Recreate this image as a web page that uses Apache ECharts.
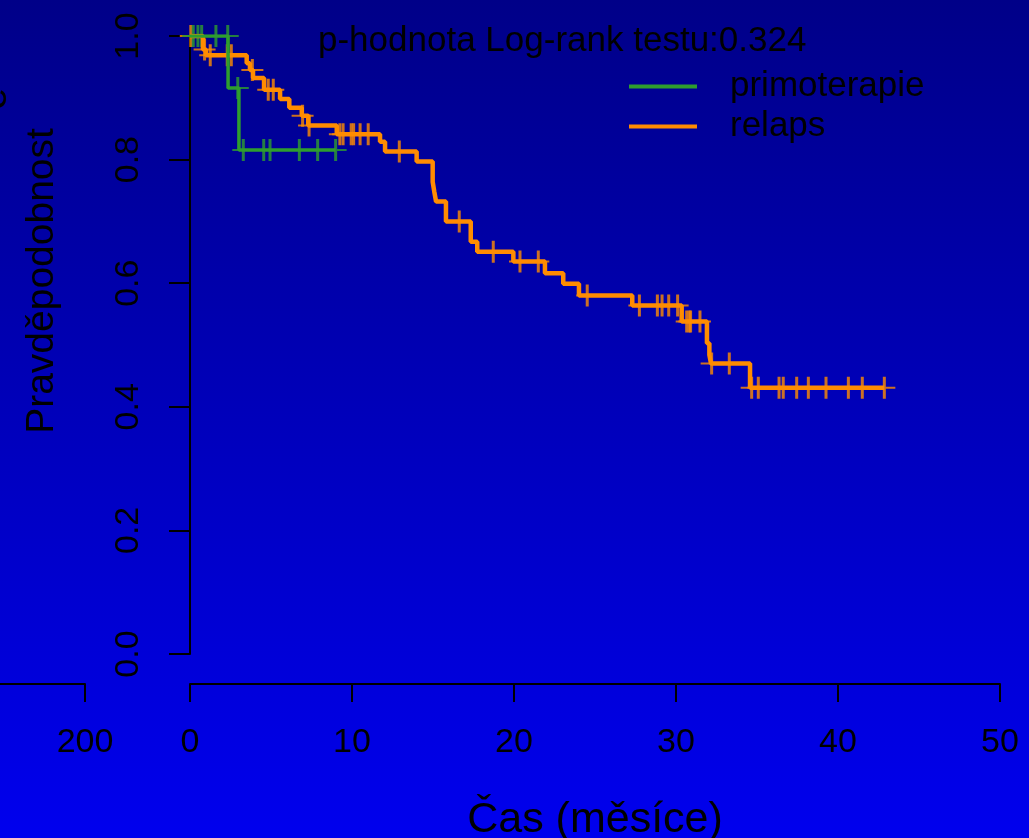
<!DOCTYPE html>
<html>
<head>
<meta charset="utf-8">
<title>Kaplan-Meier</title>
<script src="https://cdn.jsdelivr.net/npm/echarts@6/dist/echarts.min.js"></script>
<style>
  html, body { margin: 0; padding: 0; }
  #chart {
    width: 1029px;
    height: 838px;
    background: linear-gradient(to bottom, #000088, #0000ee);
  }
</style>
</head>
<body>
<div id="chart"></div>
<script>
// krivky preziti (cas v mesicich / pravdepodobnost)
var primoTimes = [0, 2.35, 3.02, 8.99];
var primoSurv = [1, 0.916, 0.8155, 0.8155];
var primoCensTimes = [0.2, 0.49, 0.72, 1.6, 2.33, 2.95, 3.29, 4.55, 4.94, 6.75, 7.88, 8.99];
var primoCensSurv = [1, 1, 1, 1, 1, 0.916, 0.8155, 0.8155, 0.8155, 0.8155, 0.8155, 0.8155];

var relapsTimes = [0, 0.80, 0.99, 3.50, 3.70, 3.89, 4.57, 5.56, 6.13, 6.90, 7.30, 9.06, 11.73, 12.04,
  13.99, 14.98, 15.08, 15.19, 15.80, 17.33, 17.73, 19.96, 21.91, 23.04, 24.01, 27.30, 30.35,
  31.91, 32.06, 32.16, 34.57, 42.86];
var relapsSurv = [1, 0.978, 0.969, 0.956, 0.945, 0.932, 0.913, 0.898, 0.884, 0.871, 0.855, 0.841,
  0.829, 0.813, 0.797, 0.764, 0.748, 0.732, 0.700, 0.667, 0.651, 0.635, 0.616, 0.599, 0.580,
  0.564, 0.538, 0.503, 0.484, 0.470, 0.431, 0.431];
var relapsCensTimes = [0.05, 0.9, 1.25, 2.3, 2.55, 3.85, 4.83, 5.14, 6.95, 7.35, 9.25, 9.45, 9.95,
  10.1, 10.5, 11.0, 12.92, 16.62, 18.72, 20.37, 21.5, 24.52, 27.74, 28.85, 29.14, 29.55, 30.1,
  30.66, 30.82, 30.9, 31.48, 32.2, 33.29, 34.67, 35.08, 36.36, 36.62, 37.45, 38.17, 39.26,
  40.64, 41.5, 42.86];
var relapsCensSurv = [1, 0.978, 0.969, 0.969, 0.969, 0.945, 0.913, 0.913, 0.871, 0.855,
  0.841, 0.841, 0.841, 0.841, 0.841, 0.841, 0.813, 0.700, 0.651, 0.635, 0.635, 0.580,
  0.564, 0.564, 0.564, 0.564, 0.564, 0.538, 0.538, 0.538, 0.538, 0.470, 0.470,
  0.431, 0.431, 0.431, 0.431, 0.431, 0.431, 0.431, 0.431, 0.431, 0.431, 0.431];

// useknuta osa sousedniho grafu vlevo
var leftAxisTicks = [200];

var font = 'Liberation Sans, Arial, Helvetica, sans-serif';
var green = '#2e9e2e';
var orange = '#ff8c00';
// znacka cenzury "+"
var plus = 'path://M9.5,0H12.5V10H22V12H12.5V22H9.5V12H0V10H9.5Z';

function pairs(xs, ys) {
  return xs.map(function (x, i) { return [x, ys[i]]; });
}

var chart = echarts.init(document.getElementById('chart'));

chart.setOption({
  animation: false,
  textStyle: { fontFamily: font, color: '#000' },
  title: {
    text: 'p-hodnota Log-rank testu:0.324',
    left: 318,
    top: 24,
    padding: 0,
    textStyle: { fontFamily: font, fontSize: 35, fontWeight: 'normal', color: '#000' }
  },
  legend: {
    orient: 'vertical',
    left: 629,
    top: 69,
    padding: 0,
    itemGap: 5,
    itemWidth: 68,
    itemHeight: 4,
    selectedMode: false,
    textStyle: { fontFamily: font, fontSize: 35, color: '#000', padding: [0, 0, 0, 28] },
    data: [
      { name: 'primoterapie', icon: 'rect' },
      { name: 'relaps', icon: 'rect' }
    ]
  },
  grid: [
    { left: 190, right: 29, top: 36, bottom: 184, outerBoundsMode: 'none' },
    { left: 0, width: 85, top: 36, bottom: 184, outerBoundsMode: 'none' }
  ],
  xAxis: [
    {
      type: 'value',
      min: 0, max: 50, interval: 10,
      offset: 30,
      name: 'Čas (měsíce)',
      nameLocation: 'middle',
      nameGap: 115,
      nameTextStyle: { fontFamily: font, fontSize: 43, color: '#000' },
      axisLine: { onZero: false, lineStyle: { color: '#000', width: 2 } },
      axisTick: { length: 18, lineStyle: { color: '#000', width: 2 } },
      axisLabel: { fontSize: 34, color: '#000', margin: 42 },
      splitLine: { show: false }
    },
    {
      type: 'value',
      gridIndex: 1,
      min: 150, max: 200,
      offset: 30,
      axisLine: { onZero: false, lineStyle: { color: '#000', width: 2 } },
      axisTick: { length: 18, customValues: leftAxisTicks, lineStyle: { color: '#000', width: 2 } },
      axisLabel: { fontSize: 34, color: '#000', margin: 42, customValues: leftAxisTicks },
      splitLine: { show: false }
    }
  ],
  yAxis: [
    {
      type: 'value',
      min: 0, max: 1, interval: 0.2,
      axisLine: { show: true, onZero: false, lineStyle: { color: '#000', width: 2 } },
      axisTick: { show: true, length: 21, lineStyle: { color: '#000', width: 2 } },
      axisLabel: {
        fontSize: 34, color: '#000', margin: 44, rotate: 90,
        formatter: function (v) { return v.toFixed(1); }
      },
      splitLine: { show: false }
    },
    { type: 'value', gridIndex: 1, show: false, min: 0, max: 1 }
  ],
  graphic: [
    {
      type: 'text', x: 42, y: 281, rotation: Math.PI / 2,
      style: { text: 'Pravděpodobnost', font: '39px ' + font, fill: '#000', align: 'center', verticalAlign: 'middle' }
    },
    {
      type: 'text', x: 15, y: 99, rotation: Math.PI / 2,
      style: { text: 'e', font: '39px ' + font, fill: '#000', align: 'center', verticalAlign: 'bottom' }
    }
  ],
  series: [
    {
      name: 'relaps', type: 'line', step: 'end', symbol: 'none',
      color: orange, lineStyle: { color: orange, width: 4.5 },
      data: pairs(relapsTimes, relapsSurv)
    },
    {
      name: 'relaps-cens', type: 'scatter', symbol: plus, symbolSize: 22,
      itemStyle: { color: orange }, silent: true,
      data: pairs(relapsCensTimes, relapsCensSurv)
    },
    {
      name: 'primoterapie', type: 'line', step: 'end', symbol: 'none',
      color: green, lineStyle: { color: green, width: 3.5 },
      data: pairs(primoTimes, primoSurv)
    },
    {
      name: 'primo-cens', type: 'scatter', symbol: plus, symbolSize: 22,
      itemStyle: { color: green }, silent: true,
      data: pairs(primoCensTimes, primoCensSurv)
    }
  ]
});
</script>
</body>
</html>
